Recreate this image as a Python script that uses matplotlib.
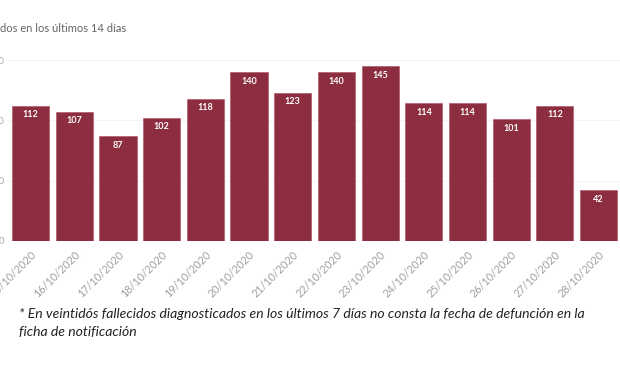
import matplotlib.pyplot as plt

fechas = ["15/10/2020", "16/10/2020", "17/10/2020", "18/10/2020", "19/10/2020",
          "20/10/2020", "21/10/2020", "22/10/2020", "23/10/2020", "24/10/2020",
          "25/10/2020", "26/10/2020", "27/10/2020", "28/10/2020"]
fallecidos = [112, 107, 87, 102, 118, 140, 123, 140, 145, 114, 114, 101, 112, 42]
y_ticks = [0, 50, 100, 150]

W, H = 620, 368
fig = plt.figure(figsize=(W / 100, H / 100), dpi=100)
fig.patch.set_facecolor("white")

# axes placed so the left edge is cropped like the reference
ax = fig.add_axes([7 / W, (H - 241) / H, 1 - 7 / W, (241 - 60) / H])
x = list(range(len(fechas)))
bars = ax.bar(x, fallecidos, width=0.85, color="#8C2E40", edgecolor="#b35a6a",
              linewidth=0.5, zorder=2)

ax.set_xlim(-0.54, 13.49)
ax.set_ylim(0, 150)
ax.set_yticks(y_ticks)
ax.set_yticklabels([str(v) for v in y_ticks], color="#aaaaaa", fontsize=7,
                   family="Lato")
ax.tick_params(axis="y", length=0, pad=2)
ax.grid(axis="y", color="#f3f3f3", linewidth=0.6, zorder=0)

ax.set_xticks(x)
ax.set_xticklabels(fechas, rotation=45, ha="right", rotation_mode="anchor",
                   color="#a0a0a0", fontsize=7.8, family="Lato")
ax.tick_params(axis="x", length=0, pad=6)

for spine in ax.spines.values():
    spine.set_visible(False)

for b, v in zip(bars, fallecidos):
    ax.text(b.get_x() + b.get_width() / 2, v - 7.5, str(v), ha="center",
            va="center", color="white", fontsize=6.5, fontweight="bold",
            family="Lato")

fig.text(0 / W, 1 - 28 / H, "dos en los últimos 14 días", ha="left",
         va="center", fontsize=8, color="#666666", family="Lato")

fig.text(19 / W, 1 - 314 / H,
         "* En veintidós fallecidos diagnosticados en los últimos 7 días no consta la fecha de defunción en la",
         ha="left", va="center", fontsize=10.1, style="italic", color="#222222",
         family="Lato")
fig.text(19 / W, 1 - 332 / H, "ficha de notificación", ha="left", va="center",
         fontsize=10.1, style="italic", color="#222222", family="Lato")

fig.savefig("out.png", dpi=100, facecolor="white")
